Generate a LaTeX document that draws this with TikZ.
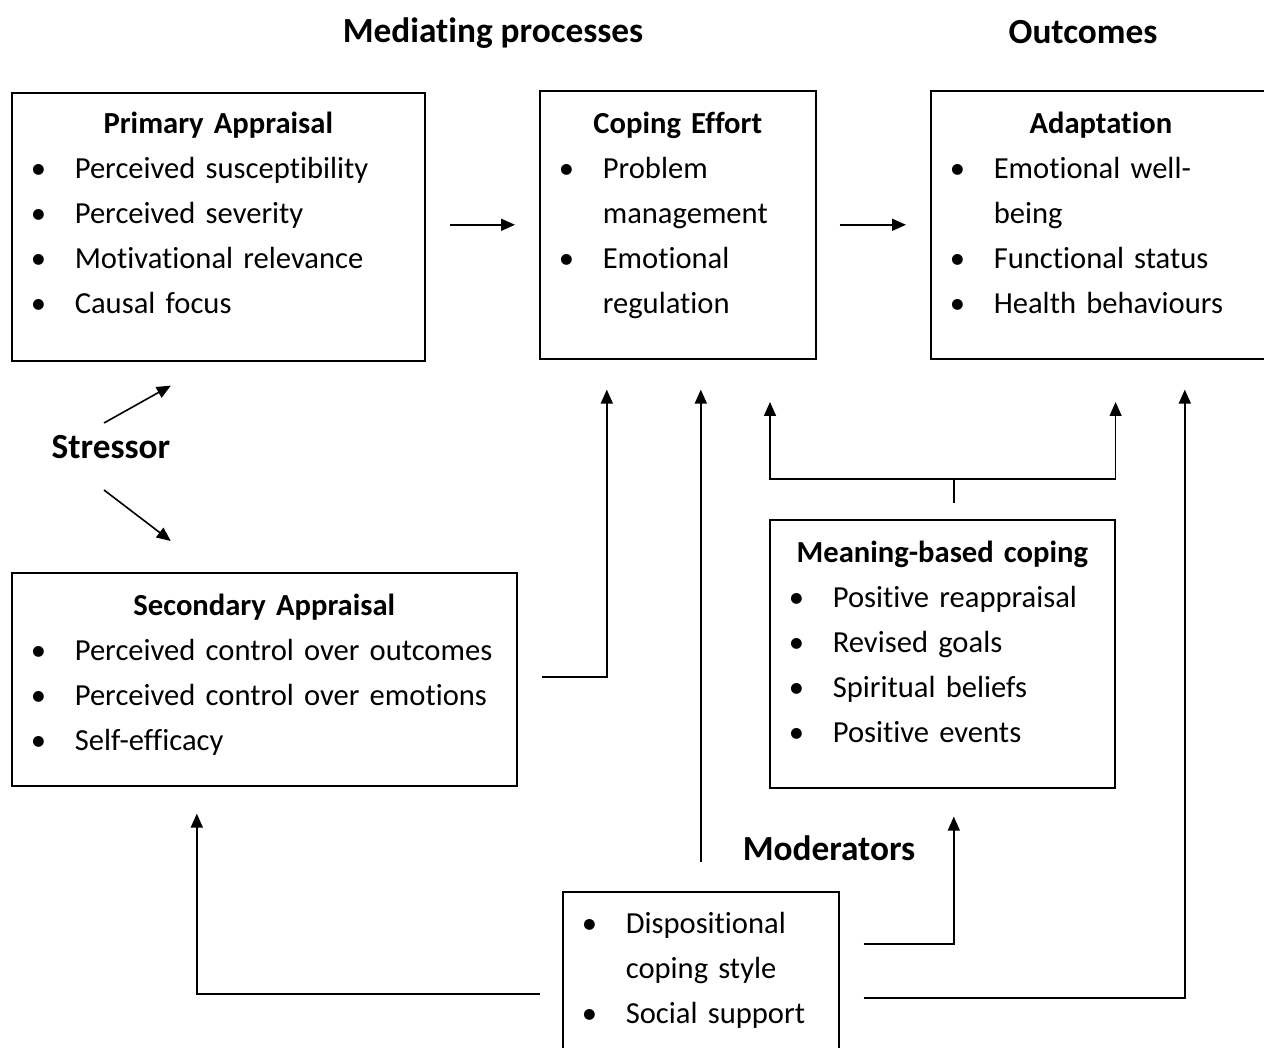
\documentclass[tikz,border=0pt]{standalone}
\usepackage{fontspec}
\setmainfont{Carlito}[Ligatures=NoCommon, WordSpace={1,0,0}]
\usetikzlibrary{arrows.meta, positioning}

\newcommand{\bitem}[1]{\makebox[44pt][l]{\textbullet}#1}
\newcommand{\bcont}[1]{\hspace*{44pt}#1}

\begin{document}
\begin{tikzpicture}[x=1pt, y=-1pt,
panel/.style = {draw, line width=1.6pt, anchor=north west,
                inner xsep=19pt, inner ysep=0pt, align=left,
                font=\fontsize{30.6}{45}\selectfont},
head/.style  = {font=\fontsize{35.3}{42}\selectfont\bfseries, inner sep=0pt},
link/.style  = {line width=1.6pt},
arr/.style   = {link, -{Triangle[length=14pt, width=12pt]}},
                    ]
\useasboundingbox (0,0) rectangle (1264,1048);
%---
\node (mediating) [head] at (493,33)  {Mediating processes};
\node (outcomes)  [head] at (1083,32) {Outcomes};
\node (stressor)  [head] at (111,447) {Stressor};
\node (moderators)[head] at (829,848) {Moderators};

\node (primary) [panel, text width=375pt, text height=41pt, text depth=227pt] at (11,92)
    {\makebox[\linewidth]{\bfseries Primary Appraisal}\\
     \bitem{Perceived susceptibility}\\
     \bitem{Perceived severity}\\
     \bitem{Motivational relevance}\\
     \bitem{Causal focus}};
\node (coping) [panel, text width=238pt, text height=43pt, text depth=225pt] at (539,90)
    {\makebox[\linewidth]{\bfseries Coping Effort}\\
     \bitem{Problem}\\
     \bcont{management}\\
     \bitem{Emotional}\\
     \bcont{regulation}};
\node (adapt) [panel, text width=302pt, text height=43pt, text depth=225pt] at (930,90)
    {\makebox[\linewidth]{\bfseries Adaptation}\\
     \bitem{Emotional well-}\\
     \bcont{being}\\
     \bitem{Functional status}\\
     \bitem{Health behaviours}};
\node (secondary) [panel, text width=467pt, text height=43pt, text depth=170pt] at (11,572)
    {\makebox[\linewidth]{\bfseries Secondary Appraisal}\\
     \bitem{Perceived control over outcomes}\\
     \bitem{Perceived control over emotions}\\
     \bitem{Self-efficacy}};
\node (meaning) [panel, text width=307pt, text height=43pt, text depth=225pt] at (769,519)
    {\makebox[\linewidth]{\bfseries Meaning-based coping}\\
     \bitem{Positive reappraisal}\\
     \bitem{Revised goals}\\
     \bitem{Spiritual beliefs}\\
     \bitem{Positive events}};
\node (moder) [panel, text width=238pt, text height=42pt, text depth=127pt] at (562,891)
    {\bitem{Dispositional}\\
     \bcont{coping style}\\
     \bitem{Social support}};

%--- main path
\draw[arr, shorten <=24pt, shorten >=24pt] (primary.east |- coping.west) -- (coping.west);
\draw[arr, shorten <=23pt, shorten >=24pt] (coping.east) -- (adapt.west |- coping.east);

%--- stressor
\draw[arr] ([shift={(-7,-24)}]stressor.center) -- ([shift={(-47.5,24)}]primary.south);
\draw[arr] ([shift={(-7,43)}]stressor.center)  -- ([shift={(-93.5,-31)}]secondary.north);

\draw[arr] ([shift={(24,-2.5)}]secondary.east) -| ([shift={(-71,30)}]coping.south);

%--- meaning-based coping
\coordinate (split) at ([shift={(11.5,-40)}]meaning.north);
\draw[link] ([shift={(11.5,-16)}]meaning.north) -- (split);
\draw[arr] (split) -| ([shift={(1,-117)}]meaning.north west);
\draw[arr] (split) -| ([shift={(0,-117)}]meaning.north east);

%--- moderators
\draw[arr] ([shift={(0,-29)}]moder.north) -- ([shift={(23,30)}]coping.south);
\draw[arr] ([shift={(24,53)}]moder.north east)  -| ([shift={(11.5,28)}]meaning.south);
\draw[arr] ([shift={(24,107)}]moder.north east) -| ([shift={(84,30)}]adapt.south);
\draw[arr] ([shift={(-22,103)}]moder.north west) -| ([shift={(-67.5,27)}]secondary.south);
\end{tikzpicture}
\end{document}
